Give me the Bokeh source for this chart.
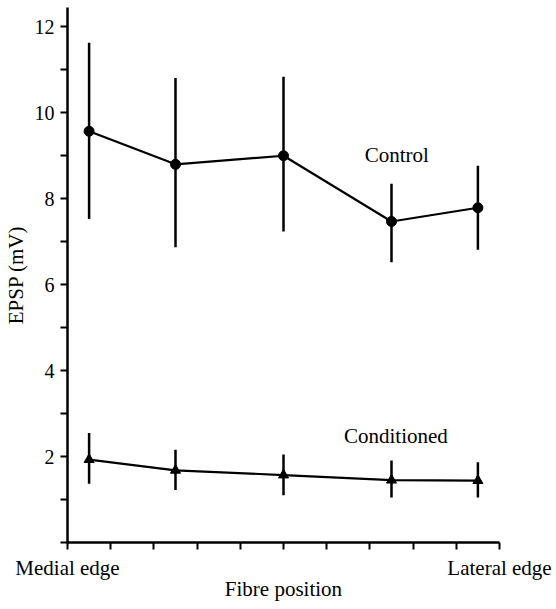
from bokeh.plotting import figure
from bokeh.models import FixedTicker, Range1d
from bokeh.core.properties import value
from bokeh.embed import file_html
from bokeh.resources import INLINE

# Data
positions = [0.5, 2.5, 5.0, 7.5, 9.5]
control_mean = [9.57, 8.80, 9.00, 7.47, 7.79]
control_upper = [11.63, 10.81, 10.84, 8.35, 8.77]
control_lower = [7.53, 6.87, 7.24, 6.52, 6.81]
cond_mean = [1.93, 1.68, 1.57, 1.45, 1.44]
cond_upper = [2.55, 2.16, 2.05, 1.91, 1.87]
cond_lower = [1.37, 1.22, 1.10, 1.05, 1.05]

x_ticks = list(range(0, 11))
x_tick_labels = {0: "Medial edge", 10: "Lateral edge"}
y_ticks = list(range(0, 13))
y_tick_labels = {2: "2", 4: "4", 6: "6", 8: "8", 10: "10", 12: "12"}

FONT = "Liberation Serif"
FS = "21px"
FS_TICK = "20px"

p = figure(frame_width=432, frame_height=535, output_backend="svg",
           toolbar_location=None,
           x_range=Range1d(0, 10), y_range=Range1d(0, 12.45),
           min_border_left=66, min_border_right=55, min_border_top=7,
           min_border_bottom=62)
p.outline_line_color = None
p.xgrid.grid_line_color = None
p.ygrid.grid_line_color = None
p.background_fill_color = "white"

# error bars
p.segment(x0=positions, y0=control_lower, x1=positions, y1=control_upper,
          line_color="black", line_width=2.5)
p.segment(x0=positions, y0=cond_lower, x1=positions, y1=cond_upper,
          line_color="black", line_width=2.5)

# lines and markers
p.line(positions, control_mean, line_color="black", line_width=2.2)
p.scatter(positions, control_mean, marker="circle", size=10,
          fill_color="black", line_color="black")
p.line(positions, cond_mean, line_color="black", line_width=2.2)
p.scatter(positions, cond_mean, marker="triangle", size=10,
          fill_color="black", line_color="black")

# series labels
p.text(x=[6.88], y=[9.02], text=["Control"], text_font=value(FONT),
       text_font_size=FS, text_baseline="middle", text_align="left",
       text_color="black")
p.text(x=[6.40], y=[2.47], text=["Conditioned"], text_font=value(FONT),
       text_font_size=FS, text_baseline="middle", text_align="left",
       text_color="black")

# axes
for ax in (p.xaxis[0], p.yaxis[0]):
    ax.axis_line_width = 2.5
    ax.axis_line_color = "black"
    ax.major_tick_line_width = 2
    ax.major_tick_line_color = "black"
    ax.major_tick_in = 0
    ax.major_tick_out = 7
    ax.minor_tick_line_color = None
    ax.major_label_text_font = FONT
    ax.major_label_text_color = "black"
    ax.axis_label_text_font = FONT
    ax.axis_label_text_font_size = FS
    ax.axis_label_text_font_style = "normal"
    ax.axis_label_text_color = "black"

p.xaxis[0].ticker = FixedTicker(ticks=x_ticks)
p.xaxis[0].major_label_overrides = {t: x_tick_labels.get(t, "") for t in x_ticks}
p.xaxis[0].major_label_text_font_size = FS
p.xaxis[0].major_label_standoff = 6
p.xaxis[0].axis_label = "Fibre position"
p.xaxis[0].axis_label_standoff = -6

p.yaxis[0].ticker = FixedTicker(ticks=y_ticks)
p.yaxis[0].major_label_overrides = {t: y_tick_labels.get(t, "") for t in y_ticks}
p.yaxis[0].major_label_text_font_size = FS_TICK
p.yaxis[0].major_label_standoff = 6
p.yaxis[0].axis_label = "EPSP (mV)"
p.yaxis[0].axis_label_standoff = 4

open("out.html", "w").write(file_html(p, INLINE))
